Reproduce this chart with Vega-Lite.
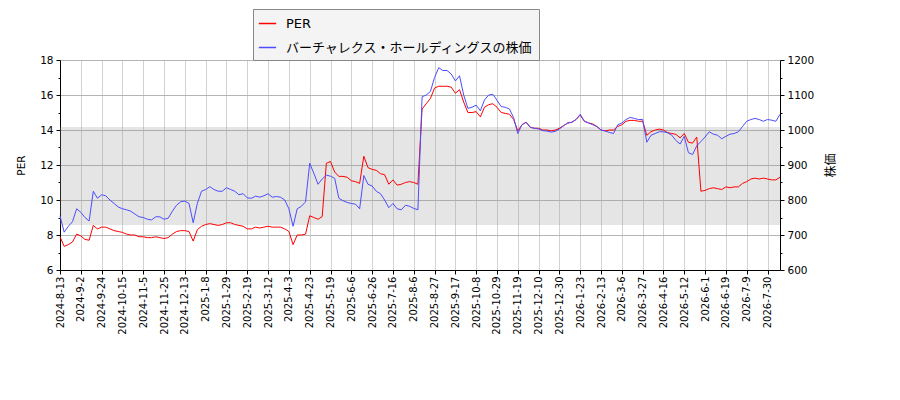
{
  "$schema": "https://vega.github.io/schema/vega-lite/v6.json",
  "width": 720,
  "height": 210,
  "autosize": {"type": "none"},
  "padding": {"left": 60, "top": 60, "right": 120, "bottom": 130},
  "data": {"values": [
    {"date": "2024-8-13", "per": 7.9, "price": 755},
    {"date": "2024-8-16", "per": 7.35, "price": 708},
    {"date": "2024-8-21", "per": 7.45, "price": 725},
    {"date": "2024-8-26", "per": 7.6, "price": 738},
    {"date": "2024-8-29", "per": 8.05, "price": 775},
    {"date": "2024-9-2", "per": 7.95, "price": 765},
    {"date": "2024-9-5", "per": 7.75, "price": 750},
    {"date": "2024-9-10", "per": 7.7, "price": 740},
    {"date": "2024-9-13", "per": 8.55, "price": 825},
    {"date": "2024-9-19", "per": 8.35, "price": 805},
    {"date": "2024-9-24", "per": 8.45, "price": 815},
    {"date": "2024-9-27", "per": 8.45, "price": 812},
    {"date": "2024-10-2", "per": 8.35, "price": 800},
    {"date": "2024-10-7", "per": 8.25, "price": 790},
    {"date": "2024-10-10", "per": 8.2, "price": 780},
    {"date": "2024-10-15", "per": 8.15, "price": 775},
    {"date": "2024-10-18", "per": 8.05, "price": 772},
    {"date": "2024-10-23", "per": 8.0, "price": 768},
    {"date": "2024-10-28", "per": 8.0, "price": 760},
    {"date": "2024-10-31", "per": 7.9, "price": 752},
    {"date": "2024-11-5", "per": 7.9, "price": 750},
    {"date": "2024-11-8", "per": 7.85, "price": 745},
    {"date": "2024-11-13", "per": 7.85, "price": 743},
    {"date": "2024-11-18", "per": 7.9, "price": 752},
    {"date": "2024-11-21", "per": 7.85, "price": 752},
    {"date": "2024-11-25", "per": 7.8, "price": 745},
    {"date": "2024-11-28", "per": 7.85, "price": 748},
    {"date": "2024-12-3", "per": 8.05, "price": 768},
    {"date": "2024-12-6", "per": 8.2, "price": 785},
    {"date": "2024-12-10", "per": 8.25, "price": 795},
    {"date": "2024-12-13", "per": 8.25, "price": 797},
    {"date": "2024-12-18", "per": 8.2, "price": 790},
    {"date": "2024-12-23", "per": 7.65, "price": 735},
    {"date": "2024-12-26", "per": 8.3, "price": 790},
    {"date": "2024-12-30", "per": 8.5, "price": 825},
    {"date": "2025-1-8", "per": 8.6, "price": 830},
    {"date": "2025-1-13", "per": 8.65, "price": 838},
    {"date": "2025-1-16", "per": 8.6, "price": 830},
    {"date": "2025-1-21", "per": 8.55, "price": 825},
    {"date": "2025-1-24", "per": 8.6, "price": 825},
    {"date": "2025-1-29", "per": 8.7, "price": 835},
    {"date": "2025-2-3", "per": 8.7, "price": 830},
    {"date": "2025-2-6", "per": 8.6, "price": 825},
    {"date": "2025-2-10", "per": 8.55, "price": 815},
    {"date": "2025-2-14", "per": 8.5, "price": 818},
    {"date": "2025-2-19", "per": 8.35, "price": 806},
    {"date": "2025-2-25", "per": 8.35, "price": 805},
    {"date": "2025-2-28", "per": 8.45, "price": 811},
    {"date": "2025-3-5", "per": 8.4, "price": 808},
    {"date": "2025-3-7", "per": 8.45, "price": 812},
    {"date": "2025-3-12", "per": 8.5, "price": 818},
    {"date": "2025-3-17", "per": 8.45, "price": 808},
    {"date": "2025-3-21", "per": 8.45, "price": 810},
    {"date": "2025-3-26", "per": 8.45, "price": 808},
    {"date": "2025-3-31", "per": 8.35, "price": 800},
    {"date": "2025-4-3", "per": 8.2, "price": 775},
    {"date": "2025-4-8", "per": 7.45, "price": 725},
    {"date": "2025-4-11", "per": 8.0, "price": 775},
    {"date": "2025-4-16", "per": 8.0, "price": 782},
    {"date": "2025-4-18", "per": 8.05, "price": 795},
    {"date": "2025-4-23", "per": 9.1, "price": 905},
    {"date": "2025-4-28", "per": 9.0, "price": 876},
    {"date": "2025-5-2", "per": 8.9, "price": 845},
    {"date": "2025-5-9", "per": 9.05, "price": 860},
    {"date": "2025-5-14", "per": 12.1, "price": 871},
    {"date": "2025-5-19", "per": 12.2, "price": 868},
    {"date": "2025-5-22", "per": 11.6, "price": 862},
    {"date": "2025-5-27", "per": 11.35, "price": 805},
    {"date": "2025-5-30", "per": 11.35, "price": 798},
    {"date": "2025-6-3", "per": 11.3, "price": 793},
    {"date": "2025-6-6", "per": 11.1, "price": 790},
    {"date": "2025-6-11", "per": 11.05, "price": 788},
    {"date": "2025-6-16", "per": 10.95, "price": 775},
    {"date": "2025-6-19", "per": 12.5, "price": 870},
    {"date": "2025-6-23", "per": 11.85, "price": 845},
    {"date": "2025-6-26", "per": 11.75, "price": 840},
    {"date": "2025-7-1", "per": 11.7, "price": 825},
    {"date": "2025-7-4", "per": 11.5, "price": 818},
    {"date": "2025-7-9", "per": 11.45, "price": 800},
    {"date": "2025-7-11", "per": 10.9, "price": 778},
    {"date": "2025-7-16", "per": 11.15, "price": 790},
    {"date": "2025-7-22", "per": 10.85, "price": 775},
    {"date": "2025-7-25", "per": 10.9, "price": 772},
    {"date": "2025-7-30", "per": 11.0, "price": 785},
    {"date": "2025-8-1", "per": 11.05, "price": 782},
    {"date": "2025-8-6", "per": 11.0, "price": 776},
    {"date": "2025-8-11", "per": 10.9, "price": 772},
    {"date": "2025-8-14", "per": 15.2, "price": 1095},
    {"date": "2025-8-19", "per": 15.5, "price": 1100},
    {"date": "2025-8-22", "per": 15.8, "price": 1110},
    {"date": "2025-8-27", "per": 16.4, "price": 1150},
    {"date": "2025-9-1", "per": 16.5, "price": 1178},
    {"date": "2025-9-4", "per": 16.5, "price": 1170},
    {"date": "2025-9-9", "per": 16.5, "price": 1170},
    {"date": "2025-9-12", "per": 16.45, "price": 1160},
    {"date": "2025-9-17", "per": 16.1, "price": 1140},
    {"date": "2025-9-22", "per": 16.3, "price": 1155},
    {"date": "2025-9-26", "per": 15.6, "price": 1100},
    {"date": "2025-10-1", "per": 15.0, "price": 1062},
    {"date": "2025-10-3", "per": 15.0, "price": 1065},
    {"date": "2025-10-8", "per": 15.05, "price": 1071},
    {"date": "2025-10-14", "per": 14.75, "price": 1055},
    {"date": "2025-10-17", "per": 15.3, "price": 1086},
    {"date": "2025-10-22", "per": 15.45, "price": 1100},
    {"date": "2025-10-24", "per": 15.5, "price": 1102},
    {"date": "2025-10-29", "per": 15.3, "price": 1085},
    {"date": "2025-11-4", "per": 15.0, "price": 1067},
    {"date": "2025-11-7", "per": 14.95, "price": 1065},
    {"date": "2025-11-12", "per": 14.9, "price": 1060},
    {"date": "2025-11-14", "per": 14.6, "price": 1035},
    {"date": "2025-11-19", "per": 13.95, "price": 990},
    {"date": "2025-11-25", "per": 14.3, "price": 1015},
    {"date": "2025-11-28", "per": 14.45, "price": 1022},
    {"date": "2025-12-3", "per": 14.15, "price": 1008},
    {"date": "2025-12-5", "per": 14.1, "price": 1005},
    {"date": "2025-12-10", "per": 14.1, "price": 1003},
    {"date": "2025-12-15", "per": 14.0, "price": 998},
    {"date": "2025-12-18", "per": 14.0, "price": 997},
    {"date": "2025-12-23", "per": 13.95, "price": 994},
    {"date": "2025-12-25", "per": 14.0, "price": 996},
    {"date": "2025-12-30", "per": 14.1, "price": 1003},
    {"date": "2026-1-7", "per": 14.25, "price": 1012},
    {"date": "2026-1-13", "per": 14.4, "price": 1020},
    {"date": "2026-1-16", "per": 14.45, "price": 1022},
    {"date": "2026-1-20", "per": 14.6, "price": 1030},
    {"date": "2026-1-23", "per": 14.85, "price": 1045},
    {"date": "2026-1-28", "per": 14.5, "price": 1025},
    {"date": "2026-2-2", "per": 14.4, "price": 1020},
    {"date": "2026-2-5", "per": 14.35, "price": 1015},
    {"date": "2026-2-10", "per": 14.2, "price": 1010},
    {"date": "2026-2-13", "per": 14.0, "price": 1000},
    {"date": "2026-2-18", "per": 13.95, "price": 997},
    {"date": "2026-2-24", "per": 14.0, "price": 993},
    {"date": "2026-2-27", "per": 14.0, "price": 990},
    {"date": "2026-3-3", "per": 14.2, "price": 1015},
    {"date": "2026-3-6", "per": 14.3, "price": 1020},
    {"date": "2026-3-11", "per": 14.5, "price": 1030},
    {"date": "2026-3-16", "per": 14.55, "price": 1036},
    {"date": "2026-3-19", "per": 14.55, "price": 1033},
    {"date": "2026-3-24", "per": 14.5, "price": 1030},
    {"date": "2026-3-27", "per": 14.5, "price": 1030},
    {"date": "2026-4-1", "per": 13.7, "price": 965},
    {"date": "2026-4-6", "per": 13.9, "price": 985},
    {"date": "2026-4-9", "per": 14.0, "price": 990},
    {"date": "2026-4-14", "per": 14.05, "price": 995},
    {"date": "2026-4-16", "per": 14.0, "price": 995},
    {"date": "2026-4-21", "per": 13.85, "price": 992},
    {"date": "2026-4-24", "per": 13.8, "price": 985},
    {"date": "2026-4-30", "per": 13.75, "price": 970},
    {"date": "2026-5-7", "per": 13.55, "price": 960},
    {"date": "2026-5-12", "per": 13.8, "price": 982},
    {"date": "2026-5-15", "per": 13.3, "price": 935},
    {"date": "2026-5-20", "per": 13.25, "price": 930},
    {"date": "2026-5-25", "per": 13.6, "price": 955},
    {"date": "2026-5-28", "per": 10.5, "price": 967},
    {"date": "2026-6-1", "per": 10.55, "price": 980},
    {"date": "2026-6-4", "per": 10.65, "price": 995},
    {"date": "2026-6-9", "per": 10.7, "price": 988},
    {"date": "2026-6-12", "per": 10.65, "price": 985},
    {"date": "2026-6-16", "per": 10.6, "price": 975},
    {"date": "2026-6-19", "per": 10.75, "price": 982},
    {"date": "2026-6-24", "per": 10.7, "price": 988},
    {"date": "2026-6-29", "per": 10.75, "price": 990},
    {"date": "2026-7-2", "per": 10.75, "price": 995},
    {"date": "2026-7-7", "per": 10.95, "price": 1010},
    {"date": "2026-7-9", "per": 11.05, "price": 1025},
    {"date": "2026-7-14", "per": 11.2, "price": 1030},
    {"date": "2026-7-17", "per": 11.25, "price": 1033},
    {"date": "2026-7-22", "per": 11.2, "price": 1030},
    {"date": "2026-7-27", "per": 11.25, "price": 1025},
    {"date": "2026-7-30", "per": 11.2, "price": 1030},
    {"date": "2026-8-4", "per": 11.15, "price": 1028},
    {"date": "2026-8-7", "per": 11.15, "price": 1025},
    {"date": "2026-8-12", "per": 11.3, "price": 1045}
  ]},
  "layer": [
    {
      "layer": [
        {
          "data": {"values": [{"lo": 8.57, "hi": 14.17}]},
          "mark": {"type": "rect", "fill": "#9a9a9a", "fillOpacity": 0.26},
          "encoding": {
            "y": {
              "field": "lo", "type": "quantitative",
              "scale": {"domain": [6, 18], "nice": false, "zero": false},
              "axis": {
                "title": "PER",
                "values": [6, 7, 8, 9, 10, 11, 12, 13, 14, 15, 16, 17, 18],
                "labelExpr": "datum.value % 2 === 0 ? datum.label : ''",
                "tickSize": {"condition": {"test": "datum.value % 2 === 0", "value": 4}, "value": 2},
                "gridOpacity": {"condition": {"test": "datum.value % 2 === 0", "value": 1}, "value": 0},
                "grid": true, "gridColor": "#b4b4b4",
                "labelFontSize": 10.5, "titleFontSize": 10.5, "titleFontWeight": "normal",
                "labelPadding": 3, "titlePadding": 13, "labelOverlap": false
              }
            },
            "y2": {"field": "hi"}
          }
        },
        {
          "mark": {"type": "line", "strokeWidth": 1},
          "encoding": {
            "x": {
              "field": "date", "type": "ordinal", "sort": null,
              "scale": {"type": "point", "padding": 0},
              "axis": {
                "title": null,
                "values": ["2024-8-13","2024-9-2","2024-9-24","2024-10-15","2024-11-5","2024-11-25","2024-12-13","2025-1-8","2025-1-29","2025-2-19","2025-3-12","2025-4-3","2025-4-23","2025-5-19","2025-6-6","2025-6-26","2025-7-16","2025-8-6","2025-8-27","2025-9-17","2025-10-8","2025-10-29","2025-11-19","2025-12-10","2025-12-30","2026-1-23","2026-2-13","2026-3-6","2026-3-27","2026-4-16","2026-5-12","2026-6-1","2026-6-19","2026-7-9","2026-7-30"],
                "labelAngle": -90, "labelFontSize": 10, "labelPadding": 2, "tickSize": 4,
                "grid": true, "gridColor": "#d2d2d2", "labelOverlap": false
              }
            },
            "y": {
              "field": "per", "type": "quantitative",
              "scale": {"domain": [6, 18], "nice": false, "zero": false},
              "axis": {
                "title": "PER",
                "values": [6, 7, 8, 9, 10, 11, 12, 13, 14, 15, 16, 17, 18],
                "labelExpr": "datum.value % 2 === 0 ? datum.label : ''",
                "tickSize": {"condition": {"test": "datum.value % 2 === 0", "value": 4}, "value": 2},
                "gridOpacity": {"condition": {"test": "datum.value % 2 === 0", "value": 1}, "value": 0},
                "grid": true, "gridColor": "#b4b4b4",
                "labelFontSize": 10.5, "titleFontSize": 10.5, "titleFontWeight": "normal",
                "labelPadding": 3, "titlePadding": 13, "labelOverlap": false
              }
            },
            "color": {
              "datum": "PER", "type": "nominal",
              "scale": {"domain": ["PER", "バーチャレクス・ホールディングスの株価"], "range": ["#ff0000", "#4d4dff"]},
              "legend": {
                "orient": "none", "legendX": 193, "legendY": -51, "title": null, "direction": "vertical",
                "symbolType": "stroke", "symbolSize": 300, "symbolStrokeWidth": 1.5,
                "labelFontSize": 13, "labelFont": "DejaVu Sans, Noto Sans CJK JP", "labelLimit": 400, "labelOffset": 9,
                "fillColor": "#f4f4f4", "strokeColor": "#888888", "padding": 5, "rowPadding": 7
              }
            }
          }
        }
      ]
    },
    {
      "mark": {"type": "line", "strokeWidth": 1},
      "encoding": {
        "x": {
          "field": "date", "type": "ordinal", "sort": null,
          "scale": {"type": "point", "padding": 0},
          "axis": {
            "title": null,
            "values": ["2024-8-13","2024-9-2","2024-9-24","2024-10-15","2024-11-5","2024-11-25","2024-12-13","2025-1-8","2025-1-29","2025-2-19","2025-3-12","2025-4-3","2025-4-23","2025-5-19","2025-6-6","2025-6-26","2025-7-16","2025-8-6","2025-8-27","2025-9-17","2025-10-8","2025-10-29","2025-11-19","2025-12-10","2025-12-30","2026-1-23","2026-2-13","2026-3-6","2026-3-27","2026-4-16","2026-5-12","2026-6-1","2026-6-19","2026-7-9","2026-7-30"],
            "labelAngle": -90, "labelFontSize": 10, "labelPadding": 2, "tickSize": 4,
            "grid": true, "gridColor": "#d2d2d2", "labelOverlap": false
          }
        },
        "y": {
          "field": "price", "type": "quantitative",
          "scale": {"domain": [600, 1200], "nice": false, "zero": false},
          "axis": {
            "orient": "right", "title": "株価", "titleAngle": 270,
            "titleFont": "DejaVu Sans, Noto Sans CJK JP", "format": "d",
            "values": [600, 650, 700, 750, 800, 850, 900, 950, 1000, 1050, 1100, 1150, 1200],
            "labelExpr": "datum.value % 100 === 0 ? datum.label : ''",
            "tickSize": {"condition": {"test": "datum.value % 100 === 0", "value": 4}, "value": 2},
            "grid": false, "labelFontSize": 10.5, "titleFontSize": 12, "titleFontWeight": "normal",
            "labelPadding": 3, "titlePadding": 24, "labelOverlap": false
          }
        },
        "color": {"datum": "バーチャレクス・ホールディングスの株価", "type": "nominal"}
      }
    }
  ],
  "resolve": {"scale": {"y": "independent"}},
  "config": {
    "font": "DejaVu Sans",
    "view": {"stroke": null},
    "axis": {"domainColor": "#000000", "tickColor": "#000000", "labelColor": "#000000", "titleColor": "#000000"}
  }
}
